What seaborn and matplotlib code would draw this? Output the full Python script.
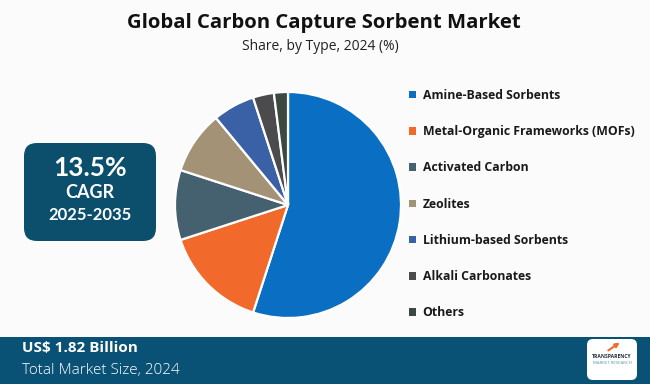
import matplotlib
matplotlib.use("Agg")
import matplotlib.pyplot as plt
import seaborn as sns
from matplotlib.patches import FancyBboxPatch, Rectangle, Patch

# Data
types = ["Amine-Based Sorbents", "Metal-Organic Frameworks (MOFs)", "Activated Carbon",
         "Zeolites", "Lithium-based Sorbents", "Alkali Carbonates", "Others"]
shares = [55.0, 15.0, 10.0, 9.0, 6.0, 3.0, 2.0]
colors = ["#0A6FC2", "#F26A2B", "#45606F", "#A39276", "#3A61A6", "#4B4B4D", "#3B4940"]

title = "Global Carbon Capture Sorbent Market"
subtitle = "Share, by Type, 2024 (%)"
cagr_value = "13.5%"
cagr_period = "2025-2035"
market_size = "US$ 1.82 Billion"
market_label = "Total Market Size, 2024"

sns.set_theme(style="white")
plt.rcParams['font.family'] = ['Open Sans', 'DejaVu Sans']

W, H = 650, 384
fig = plt.figure(figsize=(W / 100, H / 100), dpi=100)
fig.patch.set_facecolor("#FBFBFB")

# overlay axes in pixel coordinates
bg = fig.add_axes([0, 0, 1, 1])
bg.set_xlim(0, W)
bg.set_ylim(H, 0)
bg.axis("off")

# pie
cx, cy, r = 288, 205, 113
box = 118
pie_ax = fig.add_axes([(cx - box) / W, 1 - (cy + box) / H, 2 * box / W, 2 * box / H])
pie_ax.pie(shares, colors=sns.color_palette(colors), startangle=90, counterclock=False,
           radius=1, wedgeprops=dict(edgecolor="white", linewidth=1.6))
pie_ax.set_xlim(-box / r, box / r)
pie_ax.set_ylim(-box / r, box / r)
pie_ax.set_aspect("equal")
pie_ax.axis("off")
bg.text(333, 194, f"{shares[0]:.1f}%", color="white", fontsize=13, fontweight="semibold",
        family=["Lato", "DejaVu Sans"], ha="center", va="center")

# titles
bg.text(W / 2 - 1, 23, title, fontsize=14.6, fontweight="bold", ha="center", va="center", color="#111111")
bg.text(W / 2 - 5, 47, subtitle, fontsize=10, ha="center", va="center", color="#222222")

# legend
handles = [Patch(facecolor=c, edgecolor="none") for c in colors]
leg = bg.legend(handles, types, loc="upper left", bbox_to_anchor=(398 / W, 1 - 78 / H),
                bbox_transform=fig.transFigure, frameon=False, handlelength=0.57, handleheight=0.57,
                handletextpad=0.55, labelspacing=1.9, prop=dict(size=8.8, weight="bold"))
for t in leg.get_texts():
    t.set_color("#1a1a1a")

# CAGR box
bg.add_patch(FancyBboxPatch((24, 143), 132, 98, boxstyle="round,pad=0,rounding_size=13",
                            facecolor="#0B4F6C", edgecolor="none"))
bg.text(90, 168, cagr_value, color="white", fontsize=19, fontweight="bold", ha="center", va="center",
        family=["Lato", "DejaVu Sans"])
bg.text(90, 193, "CAGR", color="white", fontsize=13, fontweight="bold", ha="center", va="center",
        family=["Lato", "DejaVu Sans"])
bg.text(90, 215, cagr_period, color="white", fontsize=12, fontweight="bold", ha="center", va="center",
        family=["Lato", "DejaVu Sans"])

# bottom banner
bg.add_patch(Rectangle((0, 337), W, H - 337, facecolor="#0A5275", edgecolor="none"))
bg.text(22, 348, market_size, color="white", fontsize=11, fontweight="bold", ha="left", va="center")
bg.text(22, 371, market_label, color="white", fontsize=11, fontweight="light", ha="left", va="center")

# logo
bg.add_patch(FancyBboxPatch((587, 339), 50, 41, boxstyle="round,pad=0,rounding_size=6",
                            facecolor="white", edgecolor="none"))
bg.text(612, 357, "TRANSPARENCY", color="#1c2b3a", fontsize=3.6, fontweight="bold", ha="center", va="center")
bg.text(612, 363, "MARKET RESEARCH", color="#5a9aa8", fontsize=3.2, ha="center", va="center")
bg.annotate("", xy=(622, 341), xytext=(606, 352),
            arrowprops=dict(arrowstyle="-|>", color="#F26A2B", lw=1.5, mutation_scale=6))

fig.savefig("out.png", dpi=100, facecolor=fig.get_facecolor())
